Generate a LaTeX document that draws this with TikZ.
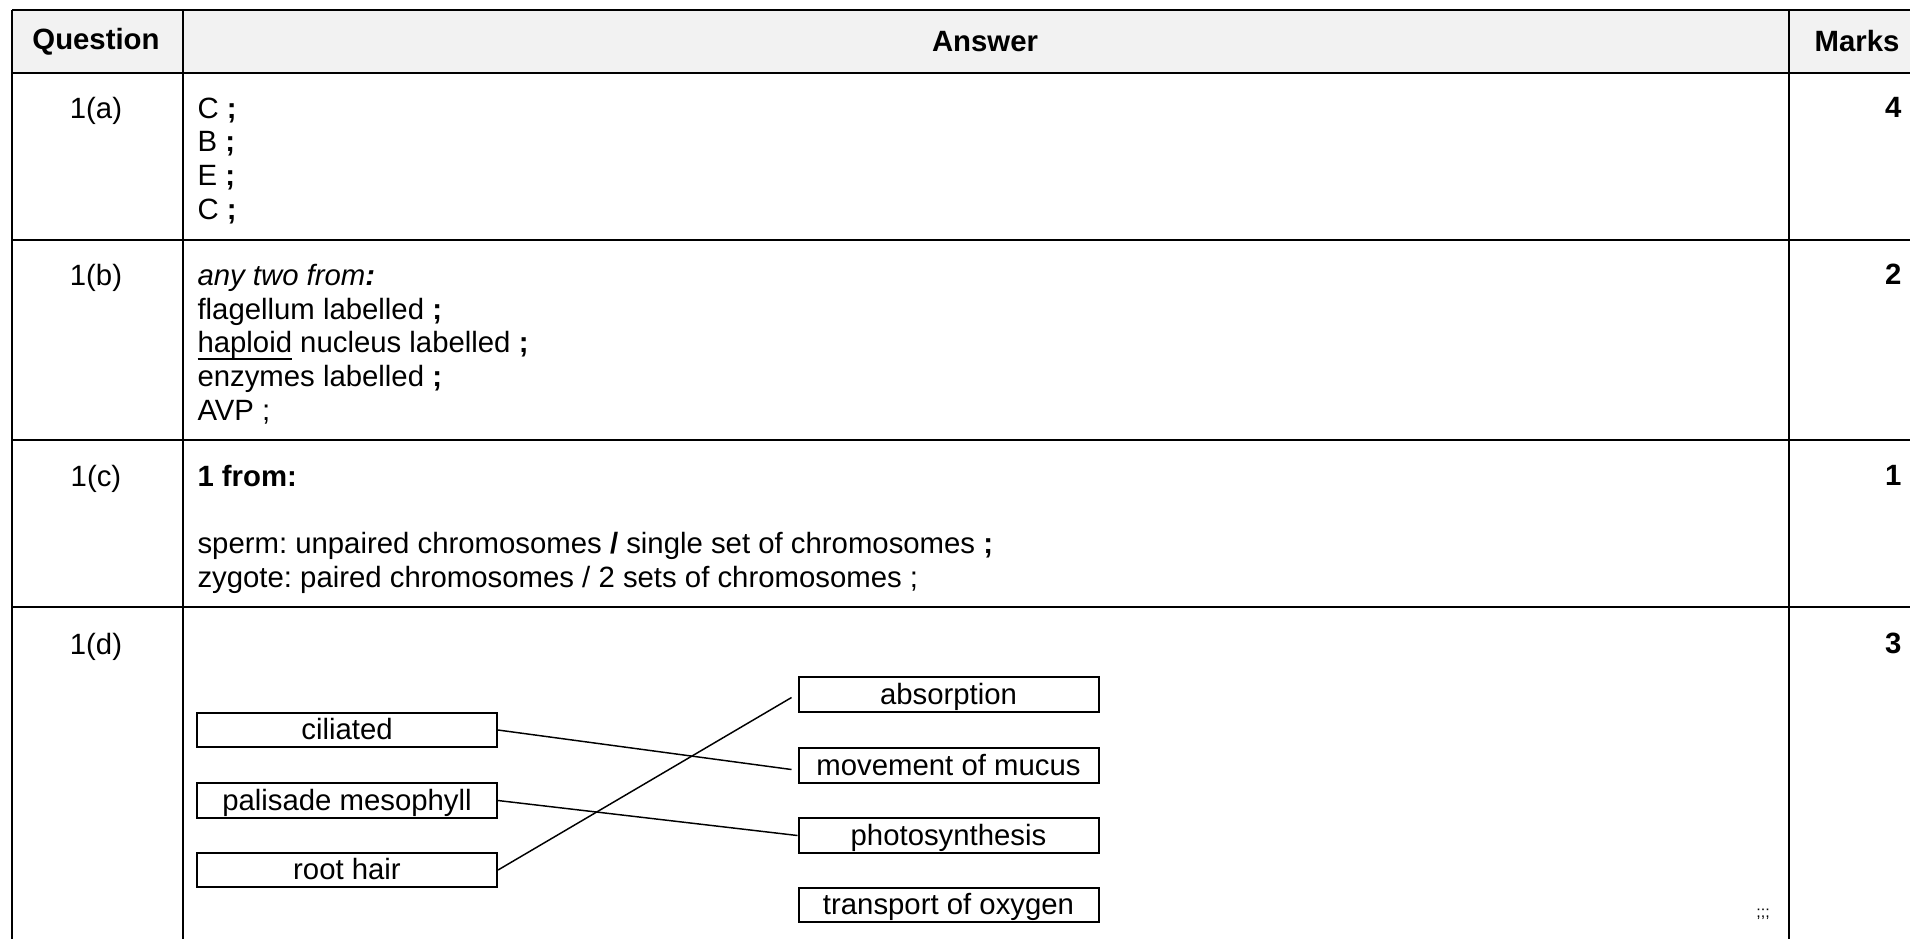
\documentclass[tikz,border=0pt]{standalone}
\usepackage{fontspec}
\setmainfont{Liberation Sans}
\usetikzlibrary{positioning}
\definecolor{headgray}{HTML}{F2F2F2}
\frenchspacing
\newcommand{\ulword}[1]{\setbox0\hbox{#1}\rlap{\rule[-2.6pt]{\wd0}{0.5pt}}\box0\relax}

\begin{document}
\begin{tikzpicture}[
    x=0.375pt, y=-0.375pt,
    rule/.style={line width=0.8pt},
    celltext/.style={anchor=north west, align=left, inner sep=0pt, font=\fontsize{11}{12.65}\selectfont},
    qlabel/.style={anchor=north, inner sep=0pt, font=\fontsize{11}{12.65}\selectfont},
    marknum/.style={anchor=north east, inner sep=0pt, font=\bfseries\fontsize{11}{12.65}\selectfont},
    head/.style={inner sep=0pt, font=\bfseries\fontsize{11}{12.65}\selectfont},
    cellbox/.style={draw, line width=0.75pt, minimum width=112.5pt, minimum height=13.1pt, inner sep=0pt, text depth=0.6pt, font=\fontsize{11}{12.65}\selectfont},
    link/.style={line width=0.55pt}
]
\useasboundingbox (0,0) rectangle (1910,938);

% table grid
\fill[headgray] (12,10) rectangle (1930,73);
\foreach \yy in {10,73,240,440,607}
    \draw[rule] (12,\yy) -- (1930,\yy);
\foreach \xx in {12,183,1789}
    \draw[rule] (\xx,10) -- (\xx,950);

% header
\node[head] (hq) at (96,41.5) {Question};
\node[head] (ha) at (985,41.5) {Answer};
\node[head] (hm) at (1857,41.5) {Marks};

% question numbers
\node[qlabel] (qa) at (96,97) {1(a)};
\node[qlabel] (qb) at (96,263.5) {1(b)};
\node[qlabel] (qc) at (96,464.5) {1(c)};
\node[qlabel] (qd) at (96,632.5) {1(d)};

% marks
\node[marknum] (ma) at (1902,97) {4};
\node[marknum] (mb) at (1902,263.5) {2};
\node[marknum] (mc) at (1902,464.5) {1};
\node[marknum] (md) at (1902,632.5) {3};

% answers
\node[celltext] (ansa) at (197,97) {C \textbf{;}\\B \textbf{;}\\E \textbf{;}\\C \textbf{;}};
\node[celltext] (ansb) at (197,263.5) {\textit{any two from\textbf{:}}\\
    flagellum labelled \textbf{;}\\
    \ulword{haploid} nucleus labelled \textbf{;}\\
    enzymes labelled \textbf{;}\\
    AVP ;};
\node[celltext] (ansc) at (197,464.5) {\textbf{1 from:}\\[12.65pt]
    sperm: unpaired chromosomes \textbf{/} single set of chromosomes \textbf{;}\\
    zygote: paired chromosomes / 2 sets of chromosomes ;};

% matching boxes
\node[cellbox] (ciliated) at (347,730) {ciliated};
\node[cellbox] (palisade) at (347,800.5) {palisade mesophyll};
\node[cellbox] (roothair) at (347,870) {root hair};
\node[cellbox] (absorb) at (948.5,694.5) {absorption};
\node[cellbox] (mucus) at (948.5,765.5) {movement of mucus};
\node[cellbox] (photo) at (948.5,835.5) {photosynthesis};
\node[cellbox] (oxygen) at (948.5,905) {transport of oxygen};

\draw[link] (ciliated.east) -- ([shift={(-6,4)}]mucus.west);
\draw[link] (palisade.east) -- (photo.west);
\draw[link] (roothair.east) -- ([shift={(-6,3)}]absorb.west);

\node[inner sep=0pt, font=\fontsize{6}{7}\selectfont] (semis) at (1763,914) {;;;};

\end{tikzpicture}
\end{document}
